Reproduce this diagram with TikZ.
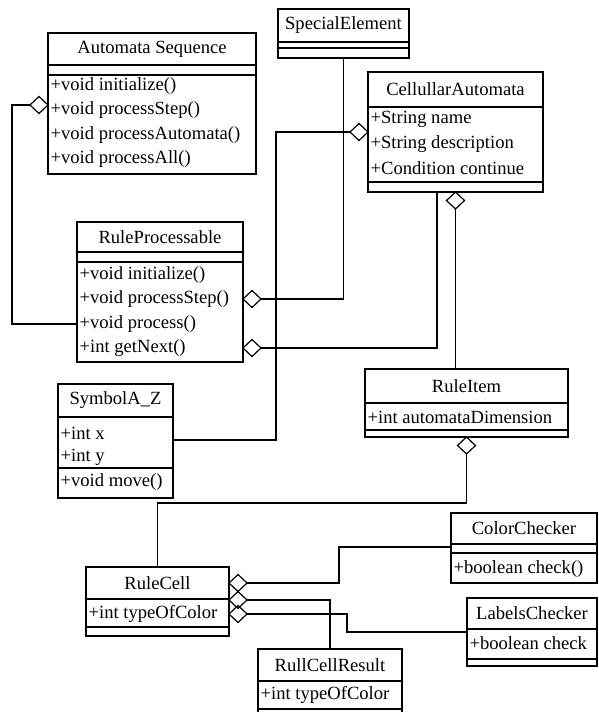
\documentclass[tikz,border=0pt]{standalone}
\usepackage{fontspec}
\setmainfont{Liberation Serif}
\usetikzlibrary{shapes.geometric,positioning}

\begin{document}
\begin{tikzpicture}[x=1pt,y=-1pt,font=\fontsize{18.6}{22}\selectfont,line width=1.2pt,
 cls/.style={draw,anchor=north west,inner sep=0pt,outer sep=0pt},
 row/.style={anchor=west,inner sep=0pt},
 agg/.style={draw,diamond,inner sep=0pt,outer sep=0pt,minimum width=18pt,minimum height=17pt}]
\useasboundingbox (0,0) rectangle (598,712);
\clip (0,0) rectangle (598,712);
% class boxes: name, corners, two separator lines
\foreach \id/\xa/\ya/\xb/\yb/\sa/\sb/\name in {as/48/33/256/174/65/75/Automata Sequence,
 se/278/9/409/58/42/48/SpecialElement,ca/368/72/543/192/107/182/CellullarAutomata,
 rp/77/222/243/362/252/262/RuleProcessable,sy/58/384/173/498/417/468/SymbolA\_Z,
 ri/365/369/568/437/403/430/RuleItem,cc/451/513/597/583/544/553/ColorChecker,
 rc/86/567/229/636/599/627/RuleCell,lc/467/598/597/666/629/659/LabelsChecker,
 rr/258/649/402/730/681/709/RullCellResult}{
\node[cls,minimum width={(\xb-\xa)*1pt},minimum height={(\yb-\ya)*1pt}] (\id) at (\xa,\ya) {};
\node (\id-t) at ({(\xa+\xb)/2},{(\ya+\sa)/2}) {\name};
\draw (\id.west |- 0,\sa) -- (\id.east |- 0,\sa) (\id.west |- 0,\sb) -- (\id.east |- 0,\sb);}
% members
\foreach \id/\x/\y/\txt in {as1/50/86/+void initialize(),as2/50/110.5/+void processStep(),
 as3/50/135/+void processAutomata(),as4/50/159.5/+void processAll(),
 ca1/370/119/+String name,ca2/370/144/+String description,ca3/370/168/+Condition continue,
 rp1/79/275/+void initialize(),rp2/79/299/+void processStep(),rp3/79/324/+void process(),rp4/79/348/+int getNext(),
 sy1/60/433/+int x,sy2/60/457/+int y,sy3/60/482/+void move(),
 ri1/367/417/+int automataDimension,cc1/453/569/+boolean check(),
 rc1/88/614/+int typeOfColor,lc1/469/643/+boolean check,rr1/260/695/+int typeOfColor}{
\node[row] (\id) at (\x,\y) {\txt};}
% aggregation diamonds
\node[agg,anchor=east] (dAS) at (as.west |- 0,105) {};
\node[agg,anchor=west] (dSE) at (rp.east |- rp2) {};
\node[agg,anchor=west] (dGN) at (rp.east |- rp4) {};
\node[agg,anchor=east] (dCA) at (ca.west |- 0,132) {};
\node[agg,anchor=north] (dRI) at (ca.south) {};
\node[agg,anchor=north] (dRC) at (ri.south) {};
\node[agg,anchor=west] (d1) at (rc.east |- rc-t) {};
\node[agg,anchor=west] (d2) at (rc.east |- 0,600) {};
\node[agg,anchor=west] (d3) at (rc.east |- rc1) {};
% connectors
\draw (dAS.west) -- (12,105) |- (rp.west |- rp3);
\draw (se.south) |- (dSE.east);
\draw (ca.south -| 437,0) |- (dGN.east);
\draw (dCA.west) -| (276,440) -- (sy.east |- 0,440);
\draw (dRI.south) -- (dRI.south |- ri.north);
\draw (dRC.south) -- ++(0,49) -| (rc.north);
\draw (d1.east) -| (339,547) -- (cc.west |- 0,547);
\draw (d2.east) -| (rr.north);
\draw (d3.east) -| (347,632) -- (lc.west |- 0,632);
\end{tikzpicture}
\end{document}
